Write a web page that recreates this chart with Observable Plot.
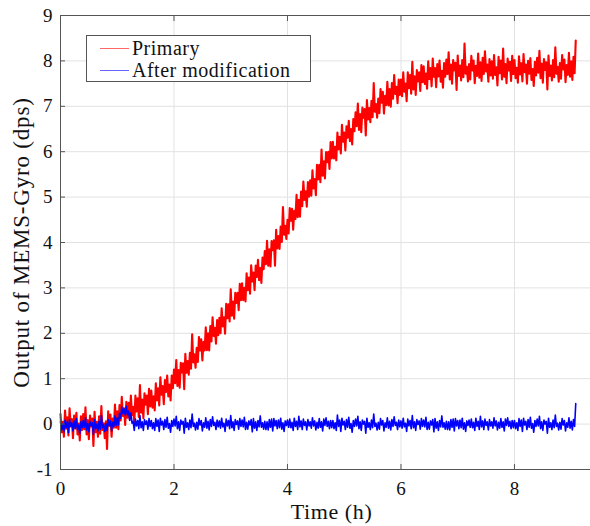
<!DOCTYPE html>
<html>
<head>
<meta charset="utf-8">
<script src="https://cdn.jsdelivr.net/npm/d3@7"></script>
<script src="https://cdn.jsdelivr.net/npm/@observablehq/plot@0.6"></script>
<style>
  body { margin: 0; background: #fff; }
  #wrap { position: relative; width: 590px; height: 526px; font-family: "Liberation Serif", serif; }
  #legend { position: absolute; left: 86px; top: 35px; width: 225px; height: 47px; border: 1px solid #555; background: #fff; box-sizing: border-box; }
  .item { position: absolute; left: 13px; height: 22px; display: flex; align-items: center; font-size: 20px; letter-spacing: 0.5px; color: #111; white-space: nowrap; }
  .item span.sw { display: inline-block; width: 29px; height: 0; border-top: 1px solid; margin-right: 3px; }
  svg text { font-family: "Liberation Serif", serif; }
</style>
</head>
<body>
<div id="wrap">
  <div id="chart"></div>
  <div id="legend"></div>
</div>
<script>
// sampling interval of the recorded series (hours)
const sampleStep = 0.02;

// Primary (red) output, dps
const primary = [
  0.22,-0.18,0.05,-0.28,0.30,-0.10,0.15,-0.25,0.35,-0.05,0.11,-0.31,0.19,-0.09,0.25,-0.23,0.01,-0.36,0.17,-0.13,
  0.22,-0.11,0.37,-0.23,0.09,-0.33,0.19,-0.05,0.12,-0.48,0.27,-0.18,0.05,-0.28,0.17,-0.21,0.40,-0.13,0.02,-0.31,
  0.06,-0.55,0.28,-0.03,0.21,-0.28,0.12,-0.08,0.43,-0.08,0.28,-0.11,0.42,0.08,0.60,0.18,0.35,-0.02,0.49,0.14,
  0.47,0.10,0.63,0.20,0.38,-0.01,0.63,0.28,0.57,0.16,0.86,0.25,0.54,0.13,0.68,0.43,0.63,0.22,0.78,0.39,
  0.74,0.36,0.61,0.30,0.90,0.52,0.79,0.41,1.03,0.65,0.84,0.44,0.97,0.71,1.07,0.61,0.87,0.52,1.07,0.79,
  1.20,0.90,1.41,0.84,1.19,0.80,1.35,1.14,1.34,0.77,1.55,1.13,1.39,1.09,1.57,1.22,1.98,1.36,1.54,1.24,
  1.68,1.37,1.92,1.62,1.87,1.40,1.81,1.62,2.13,1.63,2.00,1.62,2.16,1.82,2.35,1.94,2.12,1.77,2.29,1.96,
  2.34,2.00,2.55,2.15,2.35,1.99,2.65,2.33,2.64,2.26,2.97,2.39,2.70,2.32,2.89,2.67,2.89,2.51,3.09,2.73,
  3.10,2.73,3.00,2.70,3.32,2.95,3.23,2.87,3.50,3.14,3.34,2.95,3.49,3.24,3.62,3.17,3.44,3.11,3.67,3.41,
  3.81,3.52,4.04,3.49,3.85,3.47,4.03,3.83,4.05,3.49,4.28,3.87,4.14,3.86,4.35,4.01,4.78,4.17,4.37,4.08,
  4.50,4.20,4.76,4.48,4.74,4.28,4.70,4.52,5.05,4.56,4.94,4.57,5.12,4.80,5.34,4.94,5.13,4.79,5.33,5.01,
  5.37,5.03,5.59,5.19,5.40,5.04,5.71,5.39,5.71,5.33,6.05,5.47,5.79,5.41,5.99,5.77,6.00,5.62,6.21,5.85,
  6.22,5.85,6.11,5.81,6.42,6.05,6.33,5.96,6.59,6.22,6.42,6.03,6.56,6.31,6.68,6.23,6.50,6.16,6.72,6.45,
  6.87,6.56,7.06,6.48,6.83,6.43,6.97,6.75,6.94,6.36,7.14,6.71,6.96,6.65,7.12,6.76,7.51,6.88,7.05,6.75,
  7.17,6.85,7.38,7.08,7.32,6.84,7.23,7.03,7.54,7.02,7.38,6.99,7.51,7.17,7.69,7.27,7.43,7.07,7.59,7.25,
  7.59,7.22,7.75,7.32,7.50,7.11,7.75,7.40,7.69,7.28,7.98,7.37,7.66,7.25,7.80,7.55,7.75,7.34,7.91,7.53,
  7.88,7.49,7.72,7.39,7.99,7.60,7.84,7.44,8.05,7.65,7.84,7.42,7.93,7.66,8.01,7.54,7.78,7.41,7.95,7.65,
  8.03,7.71,8.19,7.59,7.92,7.50,8.02,7.79,7.96,7.36,8.12,7.67,7.90,7.57,8.02,7.64,8.38,7.72,7.87,7.55,
  7.93,7.59,8.11,7.79,8.01,7.51,7.89,7.67,8.16,7.63,7.97,7.56,8.07,7.71,8.21,7.77,7.92,7.54,8.04,7.68,
  7.99,7.61,8.13,7.69,7.86,7.46,8.09,7.73,8.01,7.59,8.27,7.65,7.93,7.51,8.05,7.79,7.98,7.56,8.11,7.71,
  8.02,7.62,7.85,7.52,8.10,7.70,7.95,7.55,8.15,7.75,7.92,7.50,8.00,7.72,8.06,7.58,7.82,7.45,7.98,7.68,
  8.07,7.74,8.22,7.62,7.94,7.52,8.04,7.80,7.97,7.37,8.12,7.67,7.90,7.57,8.02,7.64,8.30,7.72,7.87,7.54,
  7.95,7.61,8.13,7.81,8.03,7.53,7.91,7.69,8.18,7.65,7.99,7.58,8.09,7.73,8.45
];

// After modification (blue) output, dps
const modified = [
  0.05,-0.13,0.00,-0.17,0.09,-0.08,0.06,-0.19,0.10,-0.05,0.03,-0.15,0.07,-0.10,0.12,-0.12,-0.02,-0.21,0.05,-0.08,
  0.08,-0.07,0.14,-0.13,0.02,-0.17,0.06,-0.03,0.03,-0.23,0.10,-0.10,0.00,-0.15,0.06,-0.11,0.19,-0.08,-0.01,-0.16,
  0.01,-0.14,0.10,-0.04,0.07,-0.15,0.04,-0.05,0.18,-0.03,0.14,-0.02,0.24,0.13,0.38,0.23,0.34,0.20,0.39,0.20,
  0.29,0.08,0.25,0.02,0.06,-0.14,0.11,-0.04,0.08,-0.10,0.19,-0.08,0.05,-0.14,0.10,-0.01,0.07,-0.11,0.12,-0.05,
  0.08,-0.10,0.03,-0.14,0.12,-0.05,0.09,-0.16,0.13,-0.02,0.06,-0.12,0.10,-0.07,0.15,-0.09,0.01,-0.18,0.08,-0.05,
  0.11,-0.04,0.17,-0.10,0.05,-0.14,0.09,0.00,0.06,-0.20,0.13,-0.07,0.03,-0.12,0.09,-0.08,0.22,-0.05,0.02,-0.13,
  0.04,-0.11,0.12,-0.02,0.08,-0.15,0.03,-0.07,0.14,-0.09,0.06,-0.13,0.10,-0.05,0.16,-0.03,0.04,-0.12,0.09,-0.06,
  0.07,-0.09,0.13,-0.06,0.02,-0.16,0.11,-0.04,0.08,-0.10,0.19,-0.08,0.05,-0.14,0.10,-0.01,0.07,-0.11,0.12,-0.05,
  0.09,-0.06,0.15,-0.12,0.04,-0.11,0.07,-0.02,0.10,-0.17,0.12,-0.09,0.05,-0.14,0.08,-0.06,0.18,-0.07,0.03,-0.11,
  0.06,-0.12,0.05,-0.13,0.10,-0.07,0.11,-0.15,0.12,-0.04,0.08,-0.10,0.09,-0.08,0.13,-0.11,0.03,-0.16,0.07,-0.03,
  0.09,-0.07,0.11,-0.08,0.04,-0.14,0.13,-0.05,0.06,-0.12,0.17,-0.06,0.07,-0.12,0.11,-0.03,0.05,-0.13,0.10,-0.04,
  0.05,-0.09,0.14,-0.04,0.07,-0.13,0.04,-0.09,0.12,-0.07,0.05,-0.15,0.11,-0.03,0.14,-0.05,0.06,-0.10,0.08,-0.08,
  0.08,-0.10,0.03,-0.14,0.20,-0.05,0.09,-0.16,0.13,-0.02,0.06,-0.12,0.10,-0.07,0.15,-0.09,0.01,-0.18,0.08,-0.05,
  0.11,-0.04,0.17,-0.10,0.05,-0.14,0.09,0.00,0.06,-0.20,0.13,-0.07,0.03,-0.12,0.09,-0.08,0.22,-0.05,0.02,-0.13,
  0.04,-0.11,0.12,-0.02,0.08,-0.15,0.03,-0.07,0.14,-0.09,0.06,-0.13,0.10,-0.05,0.16,-0.03,0.04,-0.12,0.09,-0.06,
  0.07,-0.09,0.13,-0.06,0.02,-0.16,0.11,-0.04,0.08,-0.10,0.19,-0.08,0.05,-0.14,0.10,-0.01,0.07,-0.11,0.12,-0.05,
  0.09,-0.06,0.15,-0.12,0.04,-0.11,0.07,-0.02,0.10,-0.17,0.12,-0.09,0.05,-0.14,0.08,-0.06,0.18,-0.07,0.03,-0.11,
  0.06,-0.12,0.05,-0.13,0.10,-0.07,0.11,-0.15,0.12,-0.04,0.08,-0.10,0.09,-0.08,0.13,-0.11,0.03,-0.16,0.07,-0.03,
  0.09,-0.07,0.11,-0.08,0.04,-0.14,0.13,-0.05,0.06,-0.12,0.17,-0.06,0.07,-0.12,0.11,-0.03,0.05,-0.13,0.10,-0.04,
  0.05,-0.09,0.14,-0.04,0.07,-0.13,0.04,-0.09,0.12,-0.07,0.05,-0.15,0.11,-0.03,0.14,-0.05,0.06,-0.10,0.08,-0.08,
  0.08,-0.10,0.03,-0.14,0.12,-0.05,0.09,-0.16,0.13,-0.02,0.06,-0.12,0.10,-0.07,0.15,-0.09,0.01,-0.18,0.08,-0.05,
  0.11,-0.04,0.17,-0.10,0.05,-0.14,0.09,0.00,0.06,-0.20,0.13,-0.07,0.03,-0.12,0.09,-0.08,0.20,-0.05,0.02,-0.13,
  0.04,-0.11,0.12,-0.02,0.08,-0.15,0.03,-0.07,0.14,-0.09,0.06,-0.13,0.10,-0.05,0.45
];

const seriesNames = ["Primary", "After modification"];
const seriesColors = ["#ff0000", "#0000ff"];
const xTicks = [0, 2, 4, 6, 8];
const yTicks = [-1, 0, 1, 2, 3, 4, 5, 6, 7, 8, 9];
const xDomain = [0, 9.34];
const yDomain = [-1, 9];
const xLabel = "Time (h)";
const yLabel = "Output of MEMS-Gyro (dps)";

const redRows = primary.map((v, i) => ({t: i * sampleStep, v, s: seriesNames[0]}));
const blueRows = modified.map((v, i) => ({t: i * sampleStep, v, s: seriesNames[1]}));

const font = "Liberation Serif";
const axisColor = "#555";
const fmt = d => String(d);

const chart = Plot.plot({
  width: 590,
  height: 526,
  marginLeft: 60,
  marginRight: 0,
  marginTop: 15,
  marginBottom: 57,
  style: {fontFamily: font, fontSize: "19px", color: "#111", background: "#fff"},
  x: {domain: xDomain, ticks: xTicks},
  y: {domain: yDomain, ticks: yTicks},
  color: {domain: seriesNames, range: seriesColors},
  marks: [
    Plot.gridX(xTicks, {stroke: "#e2e2e2", strokeOpacity: 1}),
    Plot.gridY(yTicks, {stroke: "#e2e2e2", strokeOpacity: 1}),
    Plot.line(redRows, {x: "t", y: "v", stroke: "s", strokeWidth: 2.1}),
    Plot.line(blueRows, {x: "t", y: "v", stroke: "s", strokeWidth: 1.6}),
    Plot.ruleX([xDomain[0]], {stroke: axisColor}),
    Plot.ruleY([yDomain[0]], {stroke: axisColor}),
    Plot.ruleY([yDomain[1]], {stroke: axisColor}),
    Plot.axisX(xTicks, {anchor: "bottom", tickSize: -5, tickPadding: 17, stroke: axisColor, fontSize: 19, fontFamily: font, tickFormat: fmt, label: null}),
    Plot.axisX(xTicks, {anchor: "top", tickSize: -5, tickFormat: () => "", stroke: axisColor, label: null}),
    Plot.axisY(yTicks, {anchor: "left", tickSize: -5, tickPadding: 13, stroke: axisColor, fontSize: 19, fontFamily: font, tickFormat: fmt, label: null}),
    Plot.text([xLabel], {frameAnchor: "bottom", textAnchor: "middle", lineAnchor: "middle", dx: 6, dy: 42, fontSize: 22, fontFamily: font, fill: "#111"}),
    Plot.text([yLabel], {frameAnchor: "left", textAnchor: "middle", lineAnchor: "middle", rotate: -90, dx: -39, fontSize: 23, fontFamily: font, fill: "#111"})
  ]
});
document.getElementById("chart").appendChild(chart);

d3.select(chart).selectAll("text")
  .filter(function () { return this.textContent === yLabel; })
  .style("letter-spacing", "0.8px");
d3.select(chart).selectAll("text")
  .filter(function () { return this.textContent === xLabel; })
  .style("letter-spacing", "0.6px");

const legend = document.getElementById("legend");
seriesNames.forEach((name, i) => {
  const item = document.createElement("div");
  item.className = "item";
  item.style.top = (i === 0 ? 1 : 23) + "px";
  const sw = document.createElement("span");
  sw.className = "sw";
  sw.style.borderColor = seriesColors[i];
  sw.style.opacity = 0.6;
  item.appendChild(sw);
  item.appendChild(document.createTextNode(name));
  legend.appendChild(item);
});
</script>
</body>
</html>
